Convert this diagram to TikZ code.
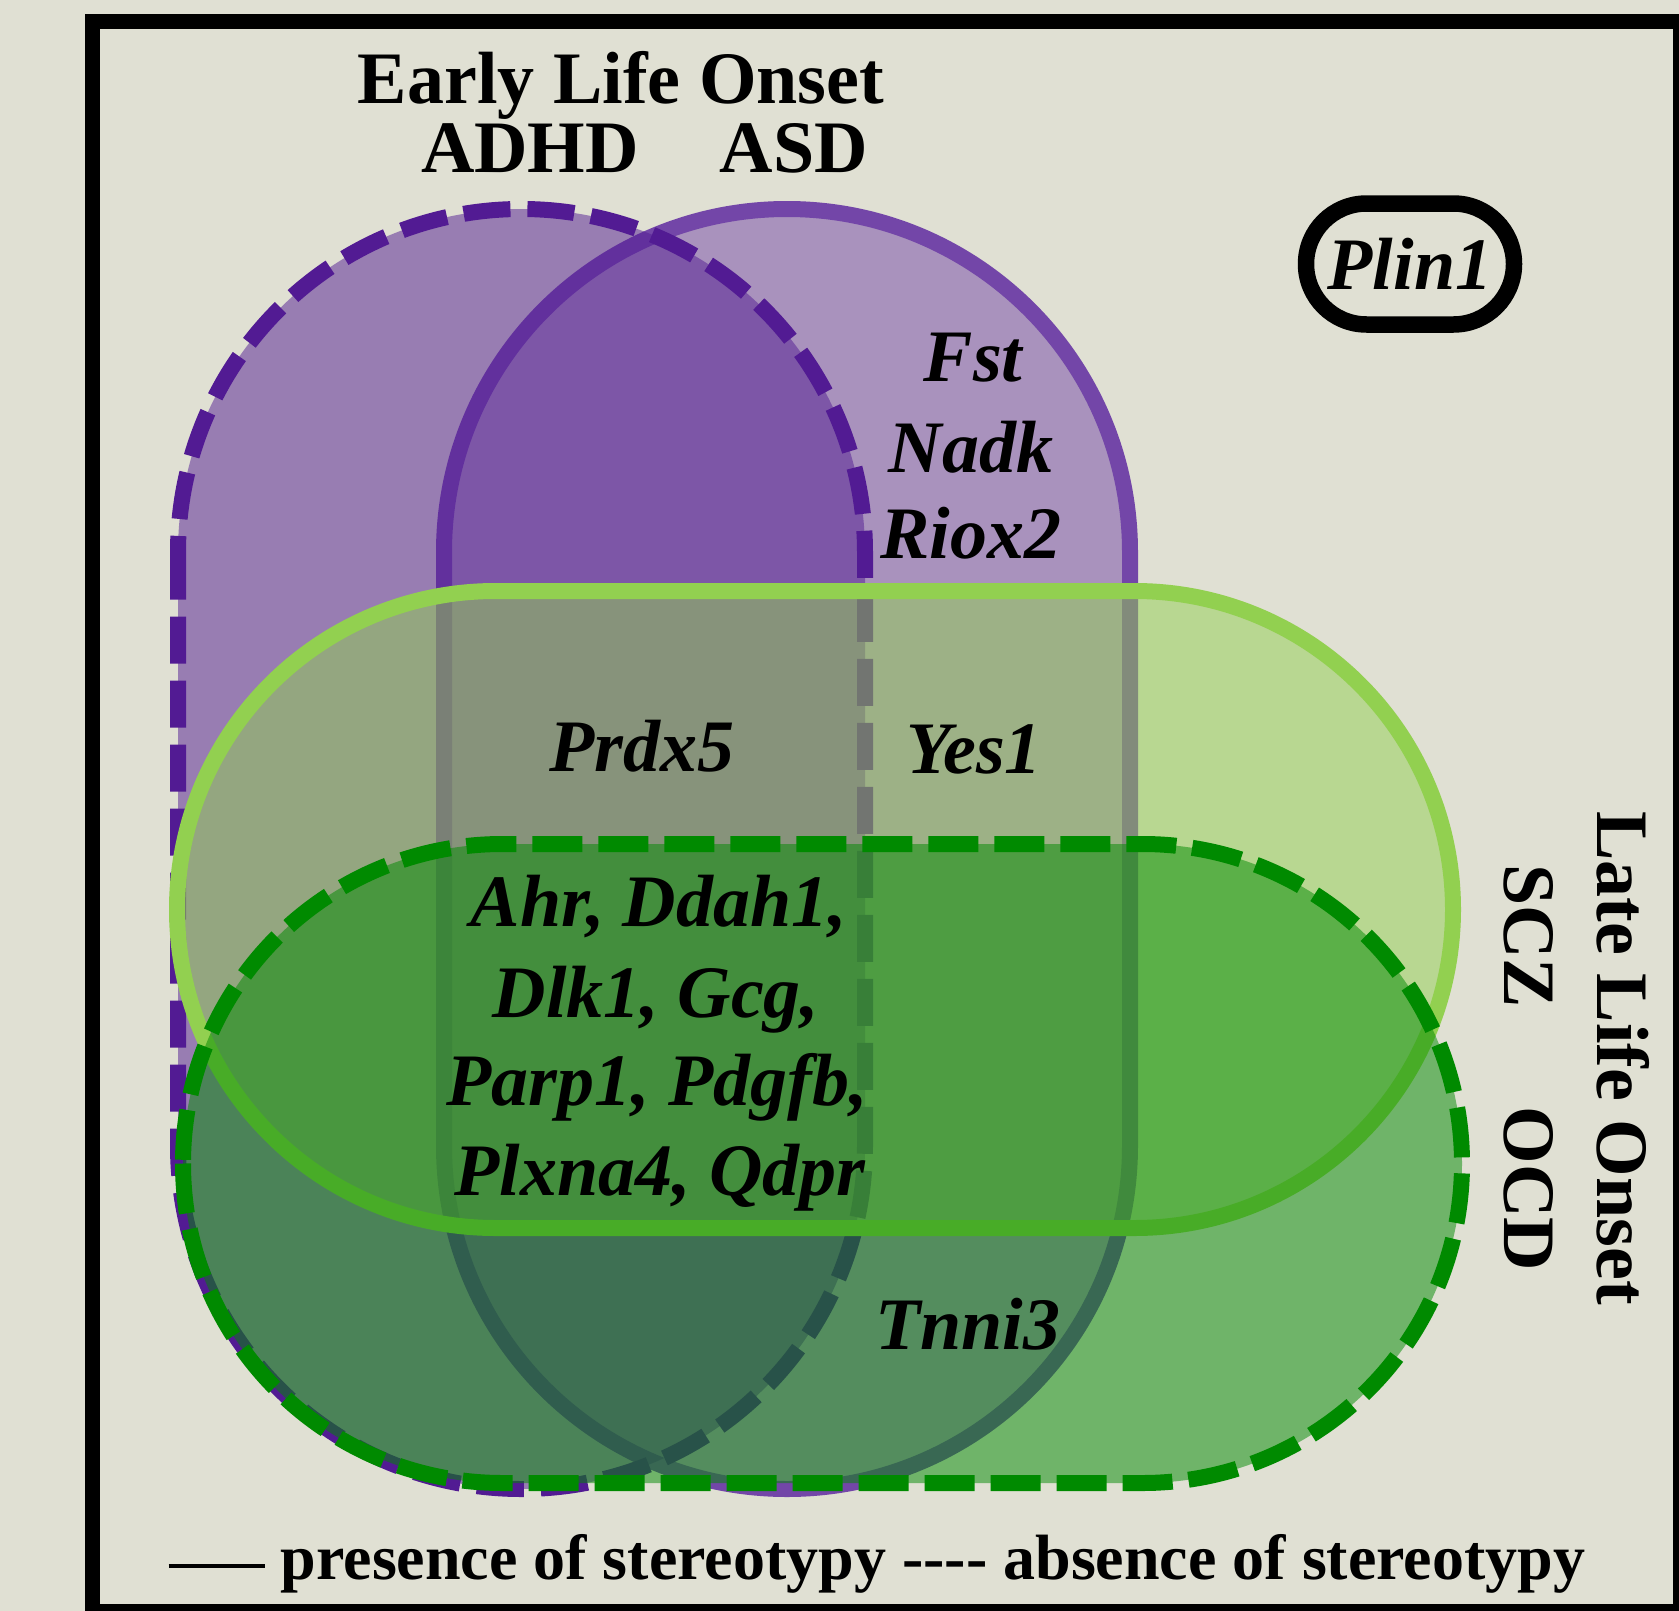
\documentclass[tikz,border=0pt]{standalone}
\usepackage{fontspec}
\setmainfont{Liberation Serif}
\usetikzlibrary{shapes.misc}
\definecolor{bgcol}{HTML}{E0E0D3}
\definecolor{adhdcol}{HTML}{521B93}
\definecolor{asdcol}{HTML}{7346A8}
\definecolor{sczcol}{HTML}{92D050}
\definecolor{ocdcol}{HTML}{008A00}
\begin{document}
\begin{tikzpicture}[x=1pt,y=-1pt,
  lbl/.style={font=\fontsize{74}{80}\selectfont\bfseries, inner sep=0pt, anchor=base},
  gene/.style={font=\fontsize{74}{80}\selectfont\bfseries\itshape, inner sep=0pt, anchor=base},
  setsolid/.style={line width=16pt},
  setdashed/.style={line width=16pt, dash pattern=on 47pt off 17pt},
]
\useasboundingbox (0,0) rectangle (1679,1611);
\clip (0,0) rectangle (1679,1611);
\fill[bgcol] (0,0) rectangle (1679,1611);

% ASD: solid purple stadium
\fill[asdcol, fill opacity=0.5, rounded corners=343pt] (444,209) rectangle (1130,1489);
\draw[asdcol, setsolid, rounded corners=343pt] (444,209) rectangle (1130,1489);

% ADHD: dashed purple stadium
\fill[adhdcol, fill opacity=0.5, rounded corners=343.5pt] (178,209) rectangle (865,1489);
\draw[adhdcol, setdashed, rounded corners=343.5pt] (178,209) rectangle (865,1489);

% SCZ: solid green stadium
\fill[sczcol, fill opacity=0.5, rounded corners=318.5pt] (177,591) rectangle (1453,1228);
\draw[sczcol, setsolid, rounded corners=318.5pt] (177,591) rectangle (1453,1228);

% OCD: dashed dark green stadium
\fill[ocdcol, fill opacity=0.5, rounded corners=319.5pt] (183,844) rectangle (1462,1483);
\draw[ocdcol, line width=16pt, dash pattern=on 50pt off 16pt, rounded corners=319.5pt] (183,844) rectangle (1462,1483);

% outer frame
\draw[black, line width=15pt] (92.5,21.5) rectangle (1680.5,1611.5);

% headings
\node[lbl] (early) at (621,103) {Early Life Onset};
\node[lbl] (adhd) at (530,172) {ADHD};
\node[lbl] (asd) at (794,172) {ASD};
\node[lbl, rotate=-90] (late) at (1597,1058) {Late Life Onset};
\node[lbl, rotate=-90] (scz) at (1504,936) {SCZ};
\node[lbl, rotate=-90] (ocd) at (1504,1189) {OCD};

% gene names
\node[draw, line width=16.5pt, rounded rectangle, minimum width=208pt, minimum height=121pt,
      inner sep=0pt, font=\fontsize{74}{80}\selectfont\bfseries\itshape] (plin) at (1410,264) {Plin1};
\node[gene] (fst) at (973,381) {Fst};
\node[gene] (nadk) at (971,472) {Nadk};
\node[gene] (riox) at (971,558) {Riox2};
\node[gene] (prdx) at (642,771) {Prdx5};
\node[gene] (yes) at (974,773) {Yes1};
\node[gene] (core1) at (659,926) {Ahr, Ddah1,};
\node[gene] (core2) at (656,1017) {Dlk1, Gcg,};
\node[gene] (core3) at (657,1105) {Parp1, Pdgfb,};
\node[gene] (core4) at (660,1195) {Plxna4, Qdpr};
\node[gene] (tnni) at (968,1349) {Tnni3};

% legend
\node[inner sep=0pt, anchor=base, font=\fontsize{64}{70}\selectfont\bfseries] (legend) at (877,1579)
  {\rule[11pt]{96pt}{4pt} presence of stereotypy -{}-{}-{}- absence of stereotypy};
\end{tikzpicture}
\end{document}
